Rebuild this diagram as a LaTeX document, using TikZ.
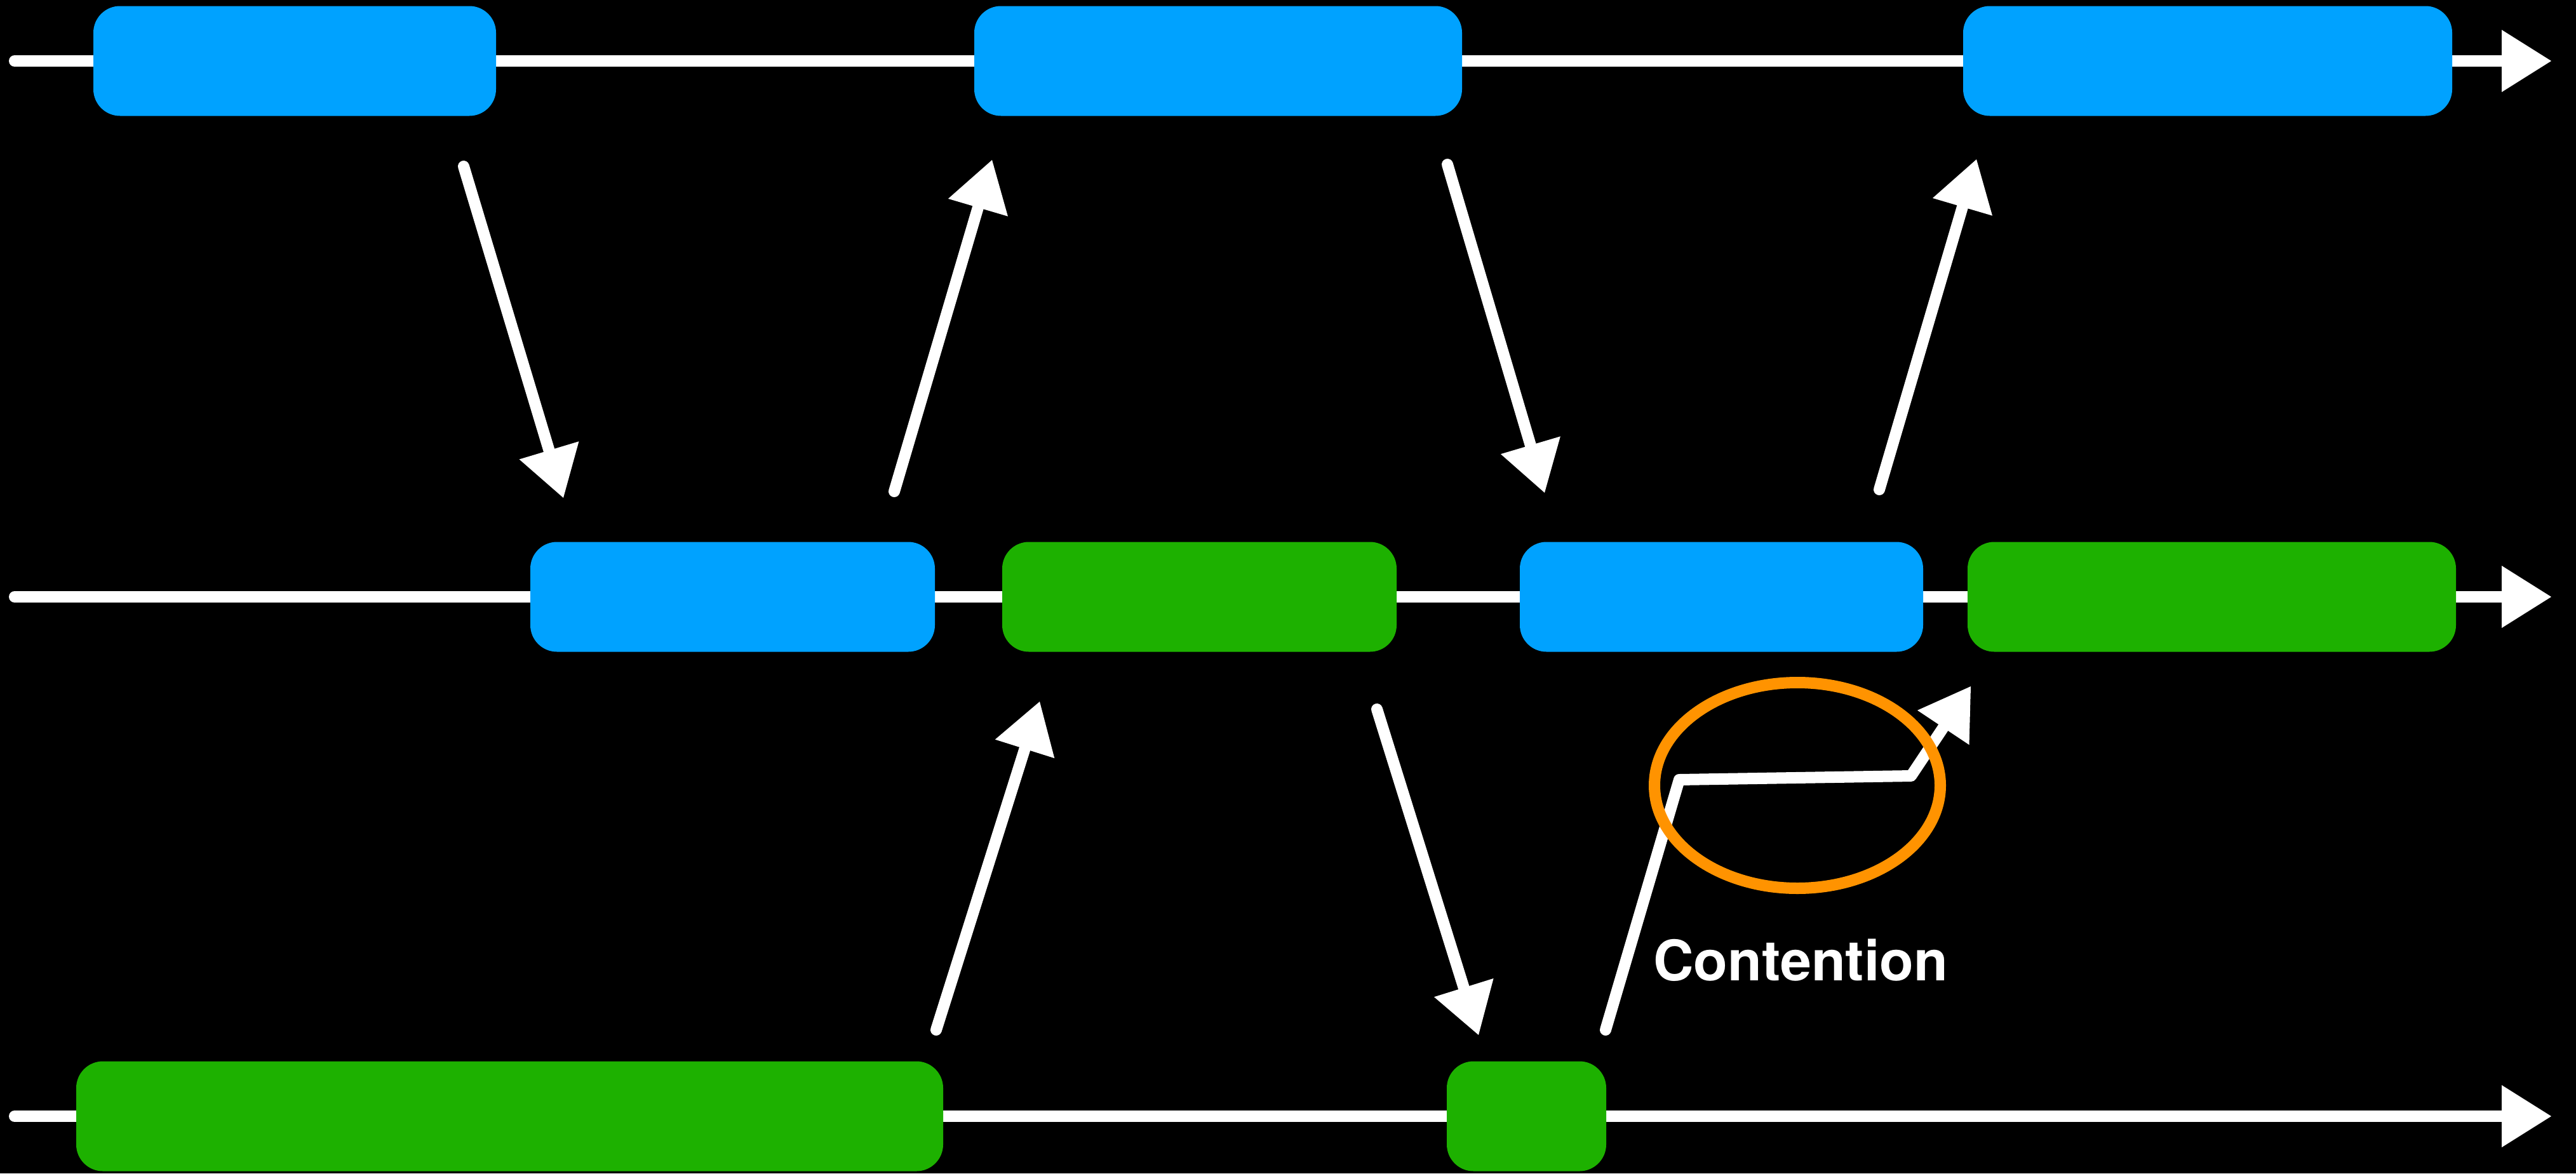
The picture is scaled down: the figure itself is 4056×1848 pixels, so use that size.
\documentclass[tikz,border=0pt]{standalone}
\usepackage{fontspec}
\setmainfont{TeX Gyre Heros}
\usetikzlibrary{arrows.meta}
\definecolor{kblue}{RGB}{0,162,255}
\definecolor{kgreen}{RGB}{29,177,0}
\definecolor{korange}{RGB}{255,147,0}
\begin{document}
\begin{tikzpicture}[x=1pt,y=-1pt,
  chalk/.style={draw=white, line width=18pt, line cap=round, line join=round,
    -{Triangle[length=78pt,width=98pt,line width=0pt]}},
  slot/.style={rectangle, rounded corners=42pt, inner sep=0pt, draw=none, minimum height=173pt},
  bluebox/.style={slot, fill=kblue},
  greenbox/.style={slot, fill=kgreen},
  lbl/.style={text=white, inner sep=0pt, font=\fontsize{88}{100}\selectfont\bfseries}]
\fill[black] (0,0) rectangle (4056,1848);
\useasboundingbox (0,0) rectangle (4056,1848);
% timeline endpoints
\coordinate (t1s) at (23,96);   \coordinate (t1e) at (4017,96);
\coordinate (t2s) at (23,940);  \coordinate (t2e) at (4017,940);
\coordinate (t3s) at (23,1758); \coordinate (t3e) at (4017,1758);
\draw[chalk] (t1s) -- (t1e);
\draw[chalk] (t2s) -- (t2e);
\draw[chalk] (t3s) -- (t3e);
% row 1
\node[bluebox, minimum width=634pt] (b1) at (464,96) {};
\node[bluebox, minimum width=768pt] (b2) at (1918,96) {};
\node[bluebox, minimum width=770pt] (b3) at (3476,96) {};
% row 2
\node[bluebox, minimum width=637pt] (b4) at (1153.5,940) {};
\node[greenbox, minimum width=621pt] (b5) at (1888.5,940) {};
\node[bluebox, minimum width=635pt] (b6) at (2710.5,940) {};
\node[greenbox, minimum width=769pt] (b7) at (3482.5,940) {};
% row 3
\node[greenbox, minimum width=1365pt] (b8) at (802.5,1758) {};
\node[greenbox, minimum width=251pt] (b9) at (2403.5,1758) {};
% diagonal messages
\coordinate (a1s) at (730,262);   \coordinate (a1e) at (887,784);
\coordinate (a2s) at (1408,774);  \coordinate (a2e) at (1562,252);
\coordinate (a3s) at (2279,259);  \coordinate (a3e) at (2432,776);
\coordinate (a4s) at (2959,771);  \coordinate (a4e) at (3112,251);
\coordinate (a5s) at (1474,1622); \coordinate (a5e) at (1637,1105);
\coordinate (a6s) at (2168,1117); \coordinate (a6e) at (2328,1630);
\coordinate (a7s) at (2528,1622); \coordinate (a7m) at (2644,1228);
\coordinate (a7n) at (3009,1222); \coordinate (a7e) at (3103,1081);
\draw[chalk] (a1s) -- (a1e);
\draw[chalk] (a2s) -- (a2e);
\draw[chalk] (a3s) -- (a3e);
\draw[chalk] (a4s) -- (a4e);
\draw[chalk] (a5s) -- (a5e);
\draw[chalk] (a6s) -- (a6e);
\draw[chalk] (a7s) -- (a7m) -- (a7n) -- (a7e);
% contention ring
\coordinate (ring) at (2830,1237);
\draw[korange, line width=18pt] (ring) ellipse [x radius=225pt, y radius=162pt];
\node[lbl, anchor=base west] (cont) at (2603,1544) {Contention};
\end{tikzpicture}
\end{document}
